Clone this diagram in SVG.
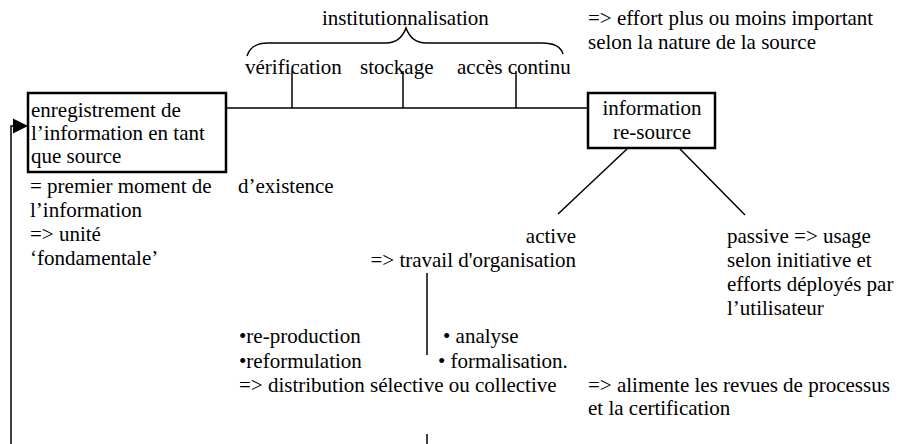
<svg xmlns="http://www.w3.org/2000/svg" width="903" height="444" viewBox="0 0 903 444">
<defs>
<style>
text{font-family:Tinos,"Liberation Serif","Times New Roman",Times,"Noto Serif","DejaVu Serif",serif;font-size:21px;fill:#000}
.box{fill:#fff;stroke:#000;stroke-width:2.5}
.ln{stroke:#000;stroke-width:1.5;fill:none}
.end{text-anchor:end}
.mid{text-anchor:middle}
</style>
<marker id="arr" viewBox="0 0 10 10" refX="10" refY="5" markerWidth="15" markerHeight="17" markerUnits="userSpaceOnUse" orient="auto">
<path d="M0,0 L10,5 L0,10 Z" fill="#000"/>
</marker>
</defs>
<rect width="903" height="444" fill="#fff"/>
<g id="connectors">
<line class="ln" x1="226" y1="108" x2="588" y2="108"/>
<line class="ln" x1="292" y1="71" x2="292" y2="108"/>
<line class="ln" x1="403" y1="71" x2="403" y2="108"/>
<line class="ln" x1="516" y1="71" x2="516" y2="108"/>
<path class="ln" d="M247,56 C250,47 256,43 268,43 L386,43 C398,43 403,36 406,28 C409,36 414,43 426,43 L542,43 C554,43 561,47 563,54"/>
<line class="ln" x1="627" y1="149" x2="558" y2="214"/>
<line class="ln" x1="680" y1="149" x2="745" y2="215"/>
<line class="ln" x1="427" y1="273" x2="427" y2="355"/>
<line class="ln" x1="427" y1="434" x2="427" y2="444"/>
<polyline class="ln" points="11,444 11,126 28,126" stroke-width="2" marker-end="url(#arr)"/>
</g>
<g id="top-labels">
<text x="322" y="25">institutionnalisation</text>
<text x="245" y="74">vérification</text>
<text x="360" y="74">stockage</text>
<text x="457" y="74">accès continu</text>
<text x="588" y="25">=&gt; effort plus ou moins important</text>
<text x="588" y="49">selon la nature de la source</text>
</g>
<g id="node-source">
<rect class="box" x="28" y="93" width="198" height="79"/>
<text x="31" y="117">enregistrement de</text>
<text x="31" y="140">l’information en tant</text>
<text x="31" y="163">que source</text>
</g>
<g id="source-notes">
<text x="30" y="193">= premier moment  de</text>
<text x="238" y="193">d’existence</text>
<text x="30" y="217">l’information</text>
<text x="30" y="241">=&gt; unité</text>
<text x="30" y="265">‘fondamentale’</text>
</g>
<g id="node-resource">
<rect class="box" x="588" y="93" width="127" height="55"/>
<text class="mid" x="652" y="115">information</text>
<text class="mid" x="652" y="139">re-source</text>
</g>
<g id="active">
<text class="end" x="576" y="243">active</text>
<text class="end" x="576" y="267">=&gt; travail d'organisation</text>
</g>
<g id="passive">
<text x="727" y="243">passive =&gt; usage</text>
<text x="727" y="267">selon initiative et</text>
<text x="727" y="291">efforts déployés par</text>
<text x="727" y="315">l’utilisateur</text>
</g>
<g id="work">
<text x="239" y="343">•re-production</text>
<text x="443" y="343">• analyse</text>
<text x="239" y="368">•reformulation</text>
<text x="438" y="368">• formalisation.</text>
<text x="239" y="392">=&gt; distribution sélective ou collective</text>
</g>
<g id="feeds">
<text x="588" y="392">=&gt; alimente les revues de processus</text>
<text x="588" y="415">et la certification</text>
</g>
</svg>
